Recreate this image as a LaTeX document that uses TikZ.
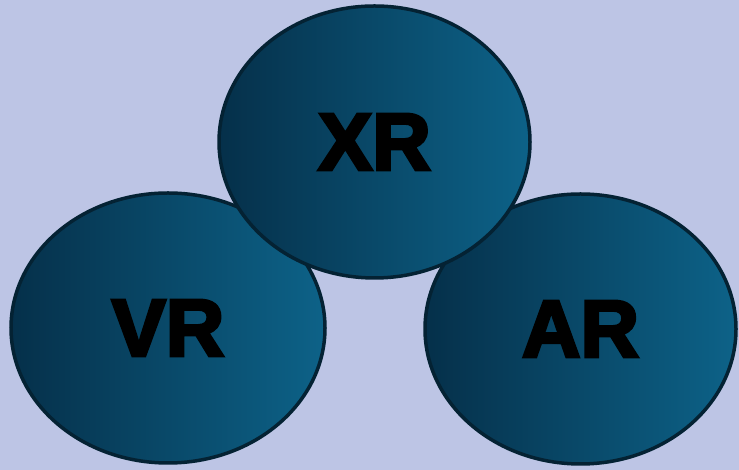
\documentclass[tikz,border=0pt]{standalone}
\usepackage{fontspec}
\setmainfont{Liberation Sans}
\usepackage{tikz}
\usetikzlibrary{shapes.geometric}
\definecolor{bgblue}{HTML}{BDC5E5}
\definecolor{darkteal}{HTML}{05304A}
\definecolor{lightteal}{HTML}{0D6288}
\definecolor{rimteal}{HTML}{042233}
\newcommand{\heavy}[1]{\special{pdf:literal direct 2 Tr 3.2 w}#1\special{pdf:literal direct 0 Tr}}

\begin{document}
\begin{tikzpicture}[x=1pt,y=1pt,
		                    main node/.style={ellipse,draw=rimteal,line width=3.5pt,inner sep=0pt,
		                    left color=darkteal,right color=lightteal},
		                    label node/.style={font=\fontsize{81}{81}\selectfont\bfseries}]
			% Background
			  \fill[bgblue] (0,0) rectangle (739,470);
			  \useasboundingbox (0,0) rectangle (739,470);
			% Nodes
			  \node[main node,minimum width=314pt,minimum height=270pt] (VR) at (168,142) {};
			  \node[main node,minimum width=311pt,minimum height=270pt] (AR) at (580.5,141) {};
			  \node[main node,minimum width=311pt,minimum height=272pt] (XR) at (374.5,328) {};
			% Labels
			  \node[label node] at (VR) {\heavy{VR}};
			  \node[label node] at (AR) {\heavy{AR}};
			  \node[label node] at (XR) {\heavy{XR}};
			\end{tikzpicture}
\end{document}
